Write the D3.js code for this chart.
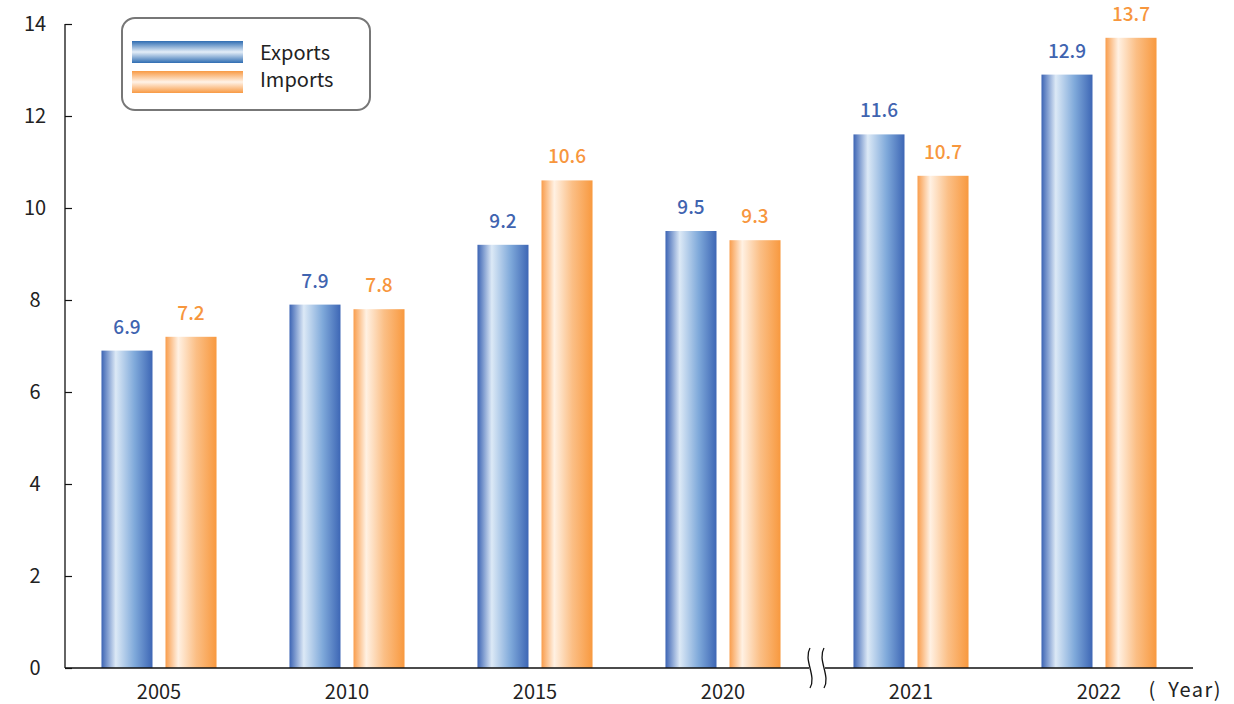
<!DOCTYPE html>
<html>
<head>
<meta charset="utf-8">
<script src="https://cdn.jsdelivr.net/npm/d3@7"></script>
<style>
  body { margin: 0; background: #fff; }
  svg text { font-family: "Noto Sans CJK JP", "Noto Sans", sans-serif; }
</style>
</head>
<body>
<div id="chart"></div>
<script>
const years = ['2005', '2010', '2015', '2020', '2021', '2022'];
const seriesNames = ['Exports', 'Imports'];
const exportsValues = [6.9, 7.9, 9.2, 9.5, 11.6, 12.9];
const importsValues = [7.2, 7.8, 10.6, 9.3, 10.7, 13.7];
const yTicks = [0, 2, 4, 6, 8, 10, 12, 14];

const width = 1234, height = 704;
const margin = {top: 24, right: 41, bottom: 36, left: 65};
const innerW = width - margin.left - margin.right;
const innerH = height - margin.top - margin.bottom;

const svg = d3.select('#chart').append('svg')
    .attr('width', width)
    .attr('height', height);

const defs = svg.append('defs');
function hGrad(id, stops) {
    const g = defs.append('linearGradient').attr('id', id)
        .attr('x1', '0%').attr('x2', '100%').attr('y1', '0%').attr('y2', '0%');
    stops.forEach(s => g.append('stop').attr('offset', s[0]).attr('stop-color', s[1]));
}
function vGrad(id, stops) {
    const g = defs.append('linearGradient').attr('id', id)
        .attr('x1', '0%').attr('x2', '0%').attr('y1', '0%').attr('y2', '100%');
    stops.forEach(s => g.append('stop').attr('offset', s[0]).attr('stop-color', s[1]));
}
hGrad('gExp', [['0%', '#3c64b4'], ['28%', '#dce9f6'], ['65%', '#7fa9da'], ['100%', '#3d66b5']]);
hGrad('gImp', [['0%', '#f99d4c'], ['25%', '#fff1e3'], ['60%', '#fbbf86'], ['100%', '#f8993f']]);
vGrad('lExp', [['0%', '#2f6db2'], ['50%', '#e4eef8'], ['100%', '#2f6db2']]);
vGrad('lImp', [['0%', '#f89a44'], ['50%', '#fff3e8'], ['100%', '#f89a44']]);

const colors = {Exports: '#3f64b0', Imports: '#f7963d'};
const fills = {Exports: 'url(#gExp)', Imports: 'url(#gImp)'};

const g = svg.append('g').attr('transform', `translate(${margin.left},${margin.top})`);

const x0 = d3.scaleBand().domain(years).range([0, innerW])
    .paddingInner(0.388).paddingOuter(0.194);
const x1 = d3.scaleBand().domain(seriesNames).range([0, x0.bandwidth()])
    .paddingInner(0.203);
const y = d3.scaleLinear().domain([0, 14]).range([innerH, 0]);

const data = years.map((yr, i) => ({
    year: yr,
    values: [
        {key: 'Exports', value: exportsValues[i]},
        {key: 'Imports', value: importsValues[i]}
    ]
}));

// bars
const groups = g.selectAll('.grp').data(data).enter().append('g')
    .attr('class', 'grp')
    .attr('transform', d => `translate(${x0(d.year)},0)`);

groups.selectAll('rect').data(d => d.values).enter().append('rect')
    .attr('x', d => x1(d.key))
    .attr('y', d => y(d.value))
    .attr('width', x1.bandwidth())
    .attr('height', d => innerH - y(d.value))
    .attr('fill', d => fills[d.key]);

groups.selectAll('.val').data(d => d.values).enter().append('text')
    .attr('class', 'val')
    .attr('x', d => x1(d.key) + x1.bandwidth() / 2)
    .attr('y', d => y(d.value) - 17)
    .attr('text-anchor', 'middle')
    .attr('font-size', 19)
    .attr('font-weight', 500)
    .attr('fill', d => colors[d.key])
    .text(d => d.value.toFixed(1));

// y axis
const yAxis = g.append('g')
    .call(d3.axisLeft(y).tickValues(yTicks).tickSize(-7).tickFormat(d3.format('d')));
yAxis.select('.domain').attr('d', `M0,0V${innerH}`).attr('stroke', '#111').attr('stroke-width', 1.3);
yAxis.selectAll('.tick line').attr('stroke', '#111').attr('stroke-width', 1.2);
yAxis.selectAll('.tick text')
    .attr('x', -30)
    .attr('text-anchor', 'middle')
    .attr('font-size', 20)
    .attr('fill', '#222');

// x axis
const breakX = (x0('2020') + x0.bandwidth() + x0('2021')) / 2;
const xAxis = g.append('g')
    .attr('transform', `translate(0,${innerH})`)
    .call(d3.axisBottom(x0).tickSize(0).tickPadding(17));
xAxis.select('.domain').attr('stroke', '#111').attr('stroke-width', 1.3)
    .attr('d', `M0,0H${breakX - 8}M${breakX + 8},0H${innerW}`);
xAxis.selectAll('.tick text')
    .attr('font-size', 20)
    .attr('fill', '#222');

// axis break marks
[-7, 7].forEach(dx => {
    const bx = breakX + dx;
    g.append('path')
        .attr('d', `M${bx},${innerH - 20} C${bx - 7},${innerH - 8} ${bx + 7},${innerH + 8} ${bx},${innerH + 20}`)
        .attr('fill', 'none')
        .attr('stroke', '#111')
        .attr('stroke-width', 1.3);
});

g.append('text')
    .attr('x', width - margin.left - 12)
    .attr('y', innerH + 29)
    .attr('text-anchor', 'end')
    .attr('font-size', 20)
    .attr('letter-spacing', 1.5)
    .attr('fill', '#222')
    .text('(\u2002Year)');

// legend
const legend = svg.append('g').attr('transform', 'translate(122,18)');
legend.append('rect')
    .attr('x', 0).attr('y', 0)
    .attr('width', 248).attr('height', 92)
    .attr('rx', 13)
    .attr('fill', '#fff')
    .attr('stroke', '#777')
    .attr('stroke-width', 2);
const legFills = {Exports: 'url(#lExp)', Imports: 'url(#lImp)'};
seriesNames.forEach((name, i) => {
    legend.append('rect')
        .attr('x', 10).attr('y', 23 + i * 30)
        .attr('width', 111).attr('height', 22)
        .attr('fill', legFills[name]);
    legend.append('text')
        .attr('x', 138).attr('y', 35 + i * 27)
        .attr('dy', '0.35em')
        .attr('font-size', 20)
        .attr('fill', '#222')
        .text(name);
});
</script>
</body>
</html>
